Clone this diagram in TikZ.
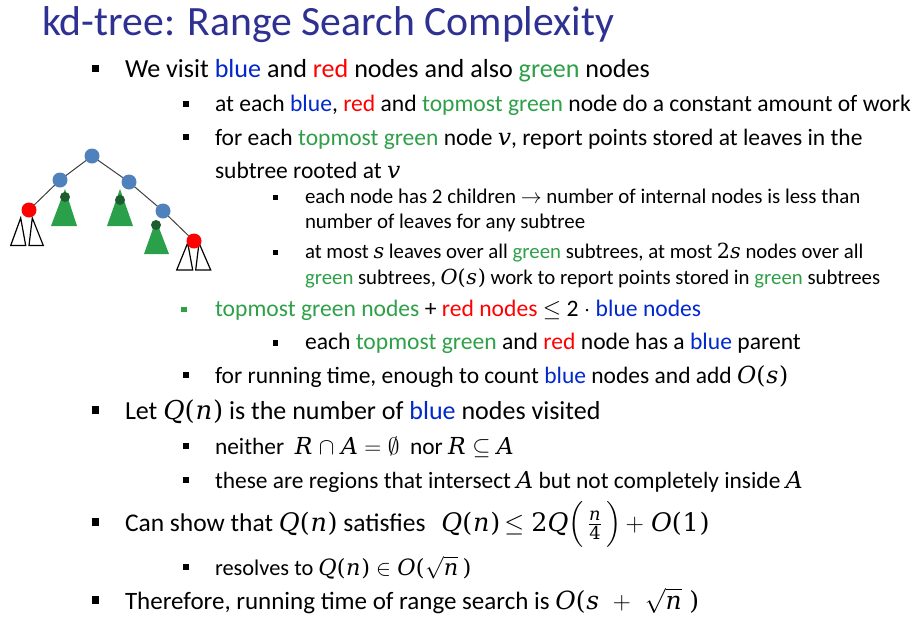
\RequirePackage{fix-cm}
\documentclass[tikz,border=0pt]{standalone}
\usepackage{amsmath,amssymb}
\usepackage{fontspec}
\setmainfont{Carlito}
\newfontfamily\mf[Scale=1.0]{DejaVu Serif}
\definecolor{ttl}{RGB}{46,49,146}
\definecolor{tb}{RGB}{0,40,204}
\definecolor{tr}{RGB}{255,0,0}
\definecolor{tg}{RGB}{46,160,72}
\definecolor{nb}{RGB}{79,129,189}
\definecolor{ng}{RGB}{43,160,74}
\definecolor{ndg}{RGB}{28,92,46}
\definecolor{edge}{RGB}{64,64,64}
\newcommand{\bl}[1]{\textcolor{tb}{#1}}
\newcommand{\rd}[1]{\textcolor{tr}{#1}}
\newcommand{\gr}[1]{\textcolor{tg}{#1}}
\newcommand{\mi}[1]{{\mf\itshape #1}}
\newcommand{\mr}[1]{{\mf #1}}
\newcommand{\lp}{\mr{(}\kern0.03em}
\newcommand{\rp}{\kern0.03em\mr{)}}
\newcommand{\Qn}{\mi{Q}\lp\mi{n}\rp}
\newcommand{\Os}{\mi{O}\lp\mi{s}\rp}
\newcommand{\sqn}{$\sqrt{\text{\mi{n}}}$}
\tikzset{
  every node/.style={inner sep=0pt, outer sep=0pt},
  txt/.style={anchor=base west},
  fs/.style={txt, font=\fontsize{#1}{#1}\selectfont},
  bul/.style={rectangle, fill=black, draw=none, minimum size=#1},
  tnode/.style={circle, minimum size=15pt, draw=none},
  bnode/.style={tnode, fill=nb},
  rnode/.style={tnode, fill=tr},
  gdot/.style={circle, minimum size=10pt, fill=ndg},
  edg/.style={draw=edge, line width=1pt},
  gtri/.style={fill=ng, draw=none},
  wtri/.style={draw=black, line width=1.2pt, fill=white},
}
\begin{document}
\begin{tikzpicture}[x=1pt,y=-1pt]
\useasboundingbox[fill=white] (0,0) rectangle (917,619);
% title
\node[fs=41.7, text=ttl] (title) at (42,35) {kd-tree: Range Search Complexity};
% tree
\draw[gtri] (65,189) -- (77,226) -- (51,226) -- cycle;
\draw[gtri] (120,189) -- (133,226) -- (107,226) -- cycle;
\draw[gtri] (156,220) -- (169,254) -- (144,254) -- cycle;
\draw[wtri] (20.7,218) -- (25.7,245.5) -- (10.7,245.5) -- cycle;
\draw[wtri] (32.3,218) -- (43.3,245.5) -- (29,245.5) -- cycle;
\draw[wtri] (187.7,243) -- (192.7,270) -- (176.7,270) -- cycle;
\draw[wtri] (199,243) -- (210.7,270) -- (195.7,270) -- cycle;
\node[bnode] (root) at (92,156) {};
\node[bnode] (lb) at (60,180) {};
\node[bnode] (rb) at (129,182) {};
\node[rnode] (lr) at (29,210) {};
\node[bnode] (rbb) at (163,211) {};
\node[rnode] (rr) at (194,241) {};
\node[gdot] (g1) at (65,197) {};
\node[gdot] (g2) at (120,200) {};
\node[gdot] (g3) at (156,225) {};
\draw[edg] (root) -- (lb);
\draw[edg] (root) -- (rb);
\draw[edg] (lb) -- (lr);
\draw[edg] (rb) -- (rbb);
\draw[edg] (rbb) -- (rr);
% bullets and text
\node[bul=7.5pt] (b1) at (95.5,68.7) {};
\node[fs=26.1] (t1) at (125,77.7) {We visit \bl{blue} and \rd{red} nodes and also \gr{green} nodes};
\node[bul=6pt] (b2) at (185.5,103.7) {};
\node[fs=23.6] (t2) at (215,111.7) {at each \bl{blue}, \rd{red} and \gr{topmost green} node do a constant amount of work};
\node[bul=6pt] (b3) at (185.5,137) {};
\node[fs=23.5] (t3) at (215,145) {for each \gr{topmost green} node \mi{v}, report points stored at leaves in the};
\node[fs=23.5] (t3b) at (215,178) {subtree rooted at \mi{v}};
\node[bul=5.5pt] (b4) at (275.5,197.5) {};
\node[fs=20.9] (t4) at (305,203.3) {each node has 2 children $\rightarrow$ number of internal nodes is less than};
\node[fs=20.9] (t4b) at (305,228.3) {number of leaves for any subtree};
\node[bul=5.5pt] (b5) at (275.5,252.5) {};
\node[fs=20.8] (t5) at (305,258.3) {at most \mi{s} leaves over all \gr{green} subtrees, at most \mr{2}\mi{s} nodes over all};
\node[fs=20.8] (t5b) at (305,284.3) {\gr{green} subtrees, \Os{} work to report points stored in \gr{green} subtrees};
\node[bul=5.5pt, fill=tg] (b6) at (184.2,309.5) {};
\node[fs=23.6] (t6) at (215,316) {\gr{topmost green nodes} + \rd{red nodes} $\leq$ 2 $\cdot$ \bl{blue nodes}};
\node[bul=5.5pt] (b7) at (275.5,343) {};
\node[fs=23.6] (t7) at (305,349) {each \gr{topmost green} and \rd{red} node has a \bl{blue} parent};
\node[bul=6pt] (b8) at (185.5,375) {};
\node[fs=23.5] (t8) at (215,383) {for running time, enough to count \bl{blue} nodes and add \Os};
\node[bul=7.5pt] (b9) at (95.5,410) {};
\node[fs=26] (t9) at (125,419) {Let \Qn{} is the number of \bl{blue} nodes visited};
\node[bul=6pt] (b10) at (185.5,446) {};
\node[fs=23.4] (t10) at (215,454) {neither \ \mi{R}\;$\cap$\;\mi{A}\;$=$\;$\emptyset$\ \ nor \mi{R}\;$\subseteq$\;\mi{A}};
\node[bul=6pt] (b11) at (185.5,480) {};
\node[fs=23.4] (t11) at (215,488) {these are regions that intersect \mi{A} but not completely inside \mi{A}};
\node[bul=7.5pt] (b12) at (95.5,522) {};
\node[fs=25.5] (t12) at (125,531) {Can show that \Qn{} satisfies\hspace*{16pt}\Qn\,$\leq$\;\mr{2}\mi{Q}$\Big(\,\frac{\text{\mi{n}}}{\text{\mr{4}}}\,\Big)$\,$+$\;\mi{O}\lp\mr{1}\rp};
\node[bul=6pt] (b13) at (185.5,567) {};
\node[fs=22.4] (t13) at (215,575) {resolves to \Qn\;$\in$\;\mi{O}\lp\sqn\,\rp};
\node[bul=7.5pt] (b14) at (95.5,600) {};
\node[fs=25] (t14) at (125,609) {Therefore, running time of range search is \mi{O}\lp\mi{s}\;\;$+$\;\;\sqn\;\rp};
\end{tikzpicture}
\end{document}
